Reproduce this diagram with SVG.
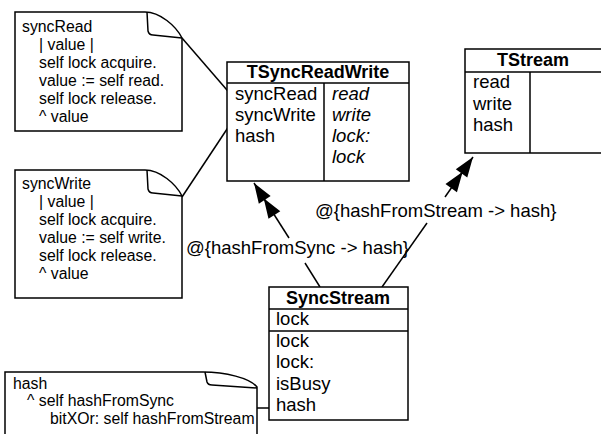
<svg xmlns="http://www.w3.org/2000/svg" width="601" height="434" viewBox="0 0 601 434">
<style>
.box{fill:#fff;stroke:#000;stroke-width:1.5}
.ln{fill:none;stroke:#000;stroke-width:1.5}
.t{font-family:"Liberation Sans",Arial,sans-serif;font-size:18.5px;fill:#000}
.b{font-weight:bold;text-anchor:middle;font-size:18px}
.i{font-style:italic}
.n{font-family:"Liberation Sans",Arial,sans-serif;font-size:15.8px;fill:#000}
.lbl{font-family:"Liberation Sans",Arial,sans-serif;font-size:18.5px;fill:#000}
</style>
<defs>
<marker id="dbl" markerUnits="userSpaceOnUse" orient="auto" viewBox="-40 -10 42 20" refX="0" refY="0" markerWidth="42" markerHeight="20" overflow="visible">
<path d="M0,0 L-20,-7 L-20,7 Z M-18,0 L-38,-7 L-38,7 Z" fill="#000"/>
</marker>
</defs>
<rect width="601" height="434" fill="#fff"/>
<g id="connectors">
<line class="ln" x1="182" y1="38" x2="233" y2="97"/>
<line class="ln" x1="182" y1="197" x2="235" y2="117"/>
<line class="ln" x1="257" y1="408" x2="274" y2="408"/>
<line class="ln" x1="320" y1="287" x2="305" y2="263"/>
<line class="ln" x1="289" y1="238" x2="254" y2="183" marker-end="url(#dbl)"/>
<line class="ln" x1="382" y1="287" x2="427" y2="223"/>
<line class="ln" x1="445" y1="197" x2="473" y2="157" marker-end="url(#dbl)"/>
<text class="lbl" x="186" y="254">@{hashFromSync -&gt; hash}</text>
<text class="lbl" x="315" y="217">@{hashFromStream -&gt; hash}</text>
</g>
<g id="note-syncRead">
<path class="box" d="M15,12 L145,12 C160,12 176,26 182,38 L182,131 L15,131 Z"/>
<path class="ln" d="M147,12 L148,31 Q149,35 153,35 L182,38"/>
<text class="n" x="22" y="32">syncRead</text>
<text class="n" x="39" y="50">| value |</text>
<text class="n" x="39" y="68">self lock acquire.</text>
<text class="n" x="39" y="86">value := self read.</text>
<text class="n" x="39" y="104">self lock release.</text>
<text class="n" x="39" y="122">^ value</text>
</g>
<g id="note-syncWrite">
<path class="box" d="M15,170 L145,170 C160,170 176,184 182,196 L182,298 L15,298 Z"/>
<path class="ln" d="M147,170 L148,189 Q149,193 153,193 L182,196"/>
<text class="n" x="22" y="189">syncWrite</text>
<text class="n" x="39" y="207">| value |</text>
<text class="n" x="39" y="225">self lock acquire.</text>
<text class="n" x="39" y="243">value := self write.</text>
<text class="n" x="39" y="261">self lock release.</text>
<text class="n" x="39" y="279">^ value</text>
</g>
<g id="note-hash">
<path class="box" d="M5,372 L203,372 C225,372 250,378 257,387 L257,440 L5,440 Z"/>
<path class="ln" d="M205,372 L207,382 Q208,385 212,385 L257,388"/>
<text class="n" x="13" y="389">hash</text>
<text class="n" x="27" y="406">^ self hashFromSync</text>
<text class="n" x="50" y="424">bitXOr: self hashFromStream</text>
</g>
<g id="TSyncReadWrite">
<rect class="box" x="227" y="62" width="182" height="119"/>
<line class="ln" x1="227" y1="83" x2="409" y2="83"/>
<line class="ln" x1="324" y1="83" x2="324" y2="181"/>
<text class="t b" x="318" y="78">TSyncReadWrite</text>
<text class="t" x="235" y="100">syncRead</text>
<text class="t" x="235" y="121">syncWrite</text>
<text class="t" x="235" y="142">hash</text>
<text class="t i" x="332" y="100">read</text>
<text class="t i" x="332" y="121">write</text>
<text class="t i" x="332" y="142">lock:</text>
<text class="t i" x="332" y="163">lock</text>
</g>
<g id="TStream">
<rect class="box" x="465" y="49" width="140" height="104"/>
<line class="ln" x1="465" y1="72" x2="605" y2="72"/>
<line class="ln" x1="530" y1="72" x2="530" y2="153"/>
<text class="t b" x="533" y="66">TStream</text>
<text class="t" x="473" y="88">read</text>
<text class="t" x="473" y="110">write</text>
<text class="t" x="473" y="131">hash</text>
</g>
<g id="SyncStream">
<rect class="box" x="269" y="287" width="139" height="133"/>
<line class="ln" x1="269" y1="309" x2="408" y2="309"/>
<line class="ln" x1="269" y1="331" x2="408" y2="331"/>
<text class="t b" x="338" y="304">SyncStream</text>
<text class="t" x="276" y="325">lock</text>
<text class="t" x="276" y="347">lock</text>
<text class="t" x="276" y="368">lock:</text>
<text class="t" x="276" y="390">isBusy</text>
<text class="t" x="276" y="411">hash</text>
</g>
</svg>
